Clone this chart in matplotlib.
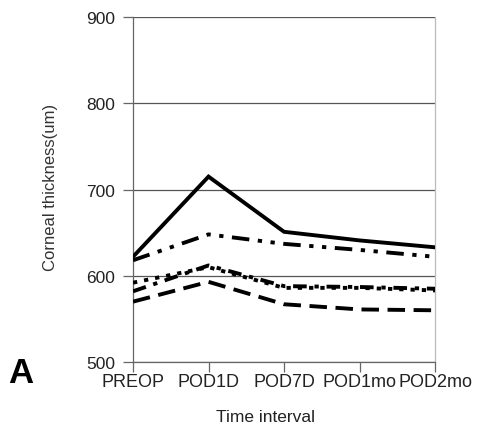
import matplotlib
matplotlib.use("Agg")
import matplotlib.pyplot as plt

categories = ["PREOP", "POD1D", "POD7D", "POD1mo", "POD2mo"]
solid_vals = [622, 715, 651, 641, 633]
dashdotdot_vals = [618, 648, 637, 630, 622]
dashdot_vals = [582, 612, 588, 587, 585]
dotted_vals = [592, 610, 586, 586, 583]
dashed_vals = [570, 593, 567, 561, 560]
yticks = [500, 600, 700, 800, 900]

plt.rcParams['font.family'] = ["Liberation Sans", "DejaVu Sans"]
txt = "#222222"

fig = plt.figure(figsize=(4.99, 4.39), dpi=100)
ax = fig.add_axes([0.2665, 0.173, 0.6055, 0.786])

x = list(range(len(categories)))
lw = 2.8
ax.plot(x, solid_vals, color="black", lw=lw, solid_joinstyle="miter", zorder=5)
ax.plot(x, dashdotdot_vals, color="black", lw=lw, linestyle=(0, (4.5, 2.2, 1.1, 2.2, 1.1, 2.2)), zorder=4)
ax.plot(x, dashdot_vals, color="black", lw=lw, linestyle=(0, (3.5, 2, 1.1, 2)), zorder=4)
ax.plot(x, dotted_vals, color="black", lw=lw, linestyle=(0, (1.1, 1.8)), zorder=4)
ax.plot(x, dashed_vals, color="black", lw=lw, linestyle=(0, (4.5, 2.2)), zorder=4)

ax.set_xlim(0, 4)
ax.set_ylim(500, 900)
ax.set_yticks(yticks)
ax.set_yticklabels([str(v) for v in yticks], fontsize=12.5, color=txt)
ax.set_xticks(x)
ax.set_xticklabels(categories, fontsize=13, color=txt)
ax.grid(axis="y", color="#555555", lw=0.9)
ax.set_axisbelow(True)
ax.spines["top"].set_visible(False)
for s in ["left", "right", "bottom"]:
    ax.spines[s].set_color("#666666")
    ax.spines[s].set_linewidth(0.9)
ax.spines["right"].set_color("#bbbbbb")
ax.tick_params(axis="both", direction="out", length=7, width=0.9, color="#666666")
ax.tick_params(axis="x", pad=1)
ax.tick_params(axis="y", pad=6)

ax.set_ylabel("Corneal thickness(um)", fontsize=12, color="#333333")
ax.yaxis.set_label_coords(-0.248, 0.51)
ax.set_xlabel("Time interval", fontsize=12.5, color=txt)
ax.xaxis.set_label_coords(0.44, -0.135)

fig.text(0.016, 0.128, "A", fontsize=25, fontweight="bold", color="black")

fig.savefig("out.png", dpi=100, facecolor="white")
